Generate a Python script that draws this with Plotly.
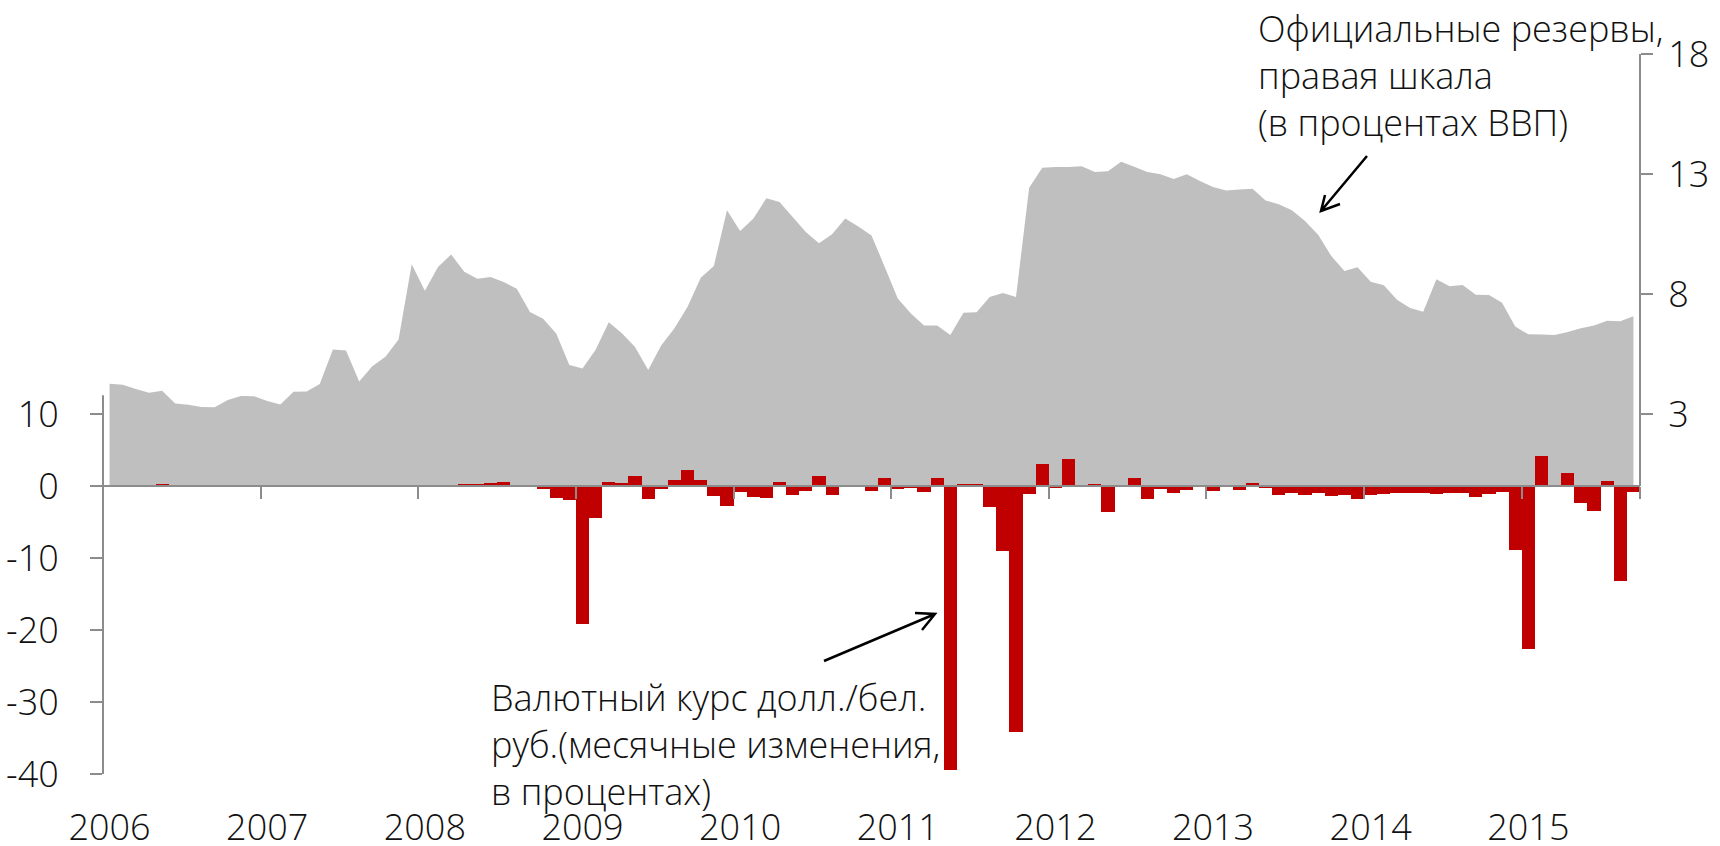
import pandas as pd
import plotly.graph_objects as go

# ---------------- data ----------------
months = pd.date_range("2006-01-01", periods=117, freq="MS")
year_labels = ["2006", "2007", "2008", "2009", "2010", "2011", "2012", "2013", "2014", "2015"]

# Official reserves, % of GDP (right scale)
reserves = [
    4.26, 4.22, 4.04, 3.89, 3.97, 3.44, 3.39, 3.29, 3.28, 3.58, 3.75, 3.74,
    3.54, 3.40, 3.93, 3.94, 4.25, 5.69, 5.65, 4.35, 4.99, 5.39, 6.10, 9.24,
    8.14, 9.13, 9.65, 8.93, 8.64, 8.71, 8.50, 8.22, 7.25, 6.97, 6.35, 5.04,
    4.90, 5.68, 6.82, 6.36, 5.79, 4.83, 5.86, 6.57, 7.47, 8.68, 9.17, 11.49,
    10.63, 11.14, 11.99, 11.83, 11.21, 10.58, 10.11, 10.49, 11.15, 10.81, 10.44, 9.14,
    7.81, 7.19, 6.69, 6.69, 6.29, 7.22, 7.24, 7.88, 8.04, 7.88, 12.43, 13.26,
    13.29, 13.29, 13.32, 13.08, 13.11, 13.51, 13.30, 13.08, 12.99, 12.79, 12.99, 12.71,
    12.46, 12.31, 12.35, 12.39, 11.90, 11.74, 11.49, 11.04, 10.47, 9.58, 8.96, 9.11,
    8.51, 8.36, 7.76, 7.42, 7.26, 8.61, 8.32, 8.38, 7.97, 7.96, 7.64, 6.65,
    6.32, 6.31, 6.29, 6.42, 6.57, 6.69, 6.89, 6.86, 7.07,
]

# USD / BYR exchange rate, monthly change in % (left scale)
fx_change = [
    0, 0, 0, 0, 0.3, 0, 0, 0, 0, 0, 0, 0,
    -0.05, -0.05, -0.05, -0.05, 0, -0.05, -0.05, -0.05, -0.05, -0.05, -0.05, 0.05,
    0.05, 0.05, 0.05, 0.2, 0.3, 0.4, 0.5, 0.05, 0, -0.4, -1.7, -2.0,
    -19.1, -4.4, 0.5, 0.45, 1.4, -1.85, -0.4, 0.8, 2.2, 0.8, -1.4, -2.8,
    -0.8, -1.5, -1.6, 0.6, -1.25, -0.65, 1.4, -1.2, 0, 0, -0.65, 1.06,
    -0.35, -0.3, -0.8, 1.06, -39.5, 0.3, 0.3, -2.9, -9.0, -34.1, -1.15, 3.0,
    -0.25, 3.7, 0, 0.2, -3.6, 0, 1.06, -1.85, -0.37, -1.0, -0.55, 0,
    -0.65, 0, -0.55, 0.37, -0.28, -1.2, -1.0, -1.2, -0.97, -1.4, -1.2, -1.85,
    -1.3, -1.1, -1.0, -1.0, -0.97, -1.1, -1.0, -1.0, -1.5, -1.15, -0.8, -8.9,
    -22.7, 4.1, 0, 1.85, -2.3, -3.5, 0.75, -13.2, -0.85,
]

left_ticks = [-40, -30, -20, -10, 0, 10]
right_ticks = [3, 8, 13, 18]

# ---------------- styling ----------------
FONT = "Open Sans"
AXIS_GRAY = "#8c8c8c"
AREA_GRAY = "#bfbfbf"
RED = "#c00000"

W, H = 1720, 846
L, R, T, B = 103, 80, 54, 72
PW, PH = W - L - R, H - T - B

def px(xp):
    return (xp - L) / PW

def py(yp):
    return (H - B - yp) / PH

idx = list(range(len(months)))
jan_idx = [i for i, m in enumerate(months) if m.month == 1]
boundaries = [i - 0.5 for i in jan_idx] + [len(months) - 0.5]

fig = go.Figure()
# reserves area on the right-hand scale (yaxis "y", drawn first)
fig.add_trace(go.Scatter(
    x=idx, y=reserves, yaxis="y", xaxis="x",
    mode="none", fill="tozeroy", fillcolor=AREA_GRAY,
    line=dict(width=0), showlegend=False, hoverinfo="skip",
))
# carrier for the year-label axis
fig.add_trace(go.Scatter(x=[None], y=[None], xaxis="x2", yaxis="y",
                         showlegend=False, hoverinfo="skip"))
# exchange-rate bars on the left-hand scale (yaxis "y2", drawn on top)
fig.add_trace(go.Bar(
    x=idx, y=fx_change, yaxis="y2", xaxis="x",
    marker=dict(color=RED, line=dict(width=0)), showlegend=False,
))

tickfont = dict(family=FONT, size=36, color="#111111", weight=300)

fig.update_layout(
    template="none",
    width=W, height=H, autosize=False,
    margin=dict(l=L, r=R, t=T, b=B, pad=0),
    paper_bgcolor="white", plot_bgcolor="rgba(0,0,0,0)",
    bargap=0, showlegend=False,
    font=dict(family=FONT, color="#111111"),
    xaxis=dict(
        range=[-0.5, len(months) - 0.5], anchor="free", position=0.4,
        showline=True, linecolor=AXIS_GRAY, linewidth=2,
        ticks="outside", ticklen=12, tickwidth=2, tickcolor=AXIS_GRAY,
        tickvals=boundaries, showticklabels=False,
        showgrid=False, zeroline=False, automargin=False,
    ),
    xaxis2=dict(
        range=[-0.5, len(months) - 0.5], overlaying="x", anchor="y", side="bottom",
        showline=False, ticks="", tickvals=jan_idx, ticktext=year_labels,
        tickfont=tickfont, ticklabelstandoff=29,
        showgrid=False, zeroline=False, automargin=False,
    ),
    yaxis=dict(
        range=[-12, 18], side="right", anchor="x",
        tickvals=right_ticks, ticktext=[str(v) for v in right_ticks],
        ticks="outside", ticklen=12, tickwidth=2, tickcolor=AXIS_GRAY,
        tickfont=tickfont, ticklabelstandoff=8,
        showline=False, showgrid=False, zeroline=False, automargin=False,
    ),
    yaxis2=dict(
        range=[-40, 60], overlaying="y", side="left", anchor="x",
        tickvals=left_ticks, ticktext=[str(v) for v in left_ticks],
        ticks="outside", ticklen=12, tickwidth=2, tickcolor=AXIS_GRAY,
        tickfont=tickfont, ticklabelstandoff=24,
        showline=False, showgrid=False, zeroline=False, automargin=False,
    ),
)

# vertical axis lines (partial height, as in the original)
fig.add_shape(type="line", xref="paper", yref="y2", x0=0, x1=0, y0=-40, y1=12.6,
              line=dict(color=AXIS_GRAY, width=2))
fig.add_shape(type="line", xref="paper", yref="y", x0=1, x1=1, y0=0, y1=18,
              line=dict(color=AXIS_GRAY, width=2))

annfont = dict(family=FONT, size=36, color="#111111", weight=300)
fig.add_annotation(
    xref="paper", yref="paper", x=px(1256), y=py(75), xanchor="left", yanchor="middle",
    align="left", showarrow=False, font=annfont,
    text="Официальные резервы,<br>правая шкала<br>(в процентах ВВП)",
)
fig.add_annotation(
    xref="paper", yref="paper", x=px(489), y=py(744), xanchor="left", yanchor="middle",
    align="left", showarrow=False, font=annfont,
    text="Валютный курс долл./бел.<br>руб.(месячные изменения,<br>в процентах)",
)

def arrow_path(x0, y0, x1, y1, hx1, hy1, hx2, hy2):
    p = "M {} {} L {} {}".format(px(x0), py(y0), px(x1), py(y1))
    p += " M {} {} L {} {} L {} {}".format(px(hx1), py(hy1), px(x1), py(y1), px(hx2), py(hy2))
    return p

fig.add_shape(type="path", xref="paper", yref="paper",
              path=arrow_path(1367, 156, 1321, 211, 1325, 195, 1340, 204),
              line=dict(color="black", width=2.5))
fig.add_shape(type="path", xref="paper", yref="paper",
              path=arrow_path(824, 661, 935, 614, 915, 613, 922, 630),
              line=dict(color="black", width=2.5))

fig.write_html("out.html",
               config={"displayModeBar": False},
               post_script="document.body.style.margin='0';document.body.style.overflow='hidden';")
